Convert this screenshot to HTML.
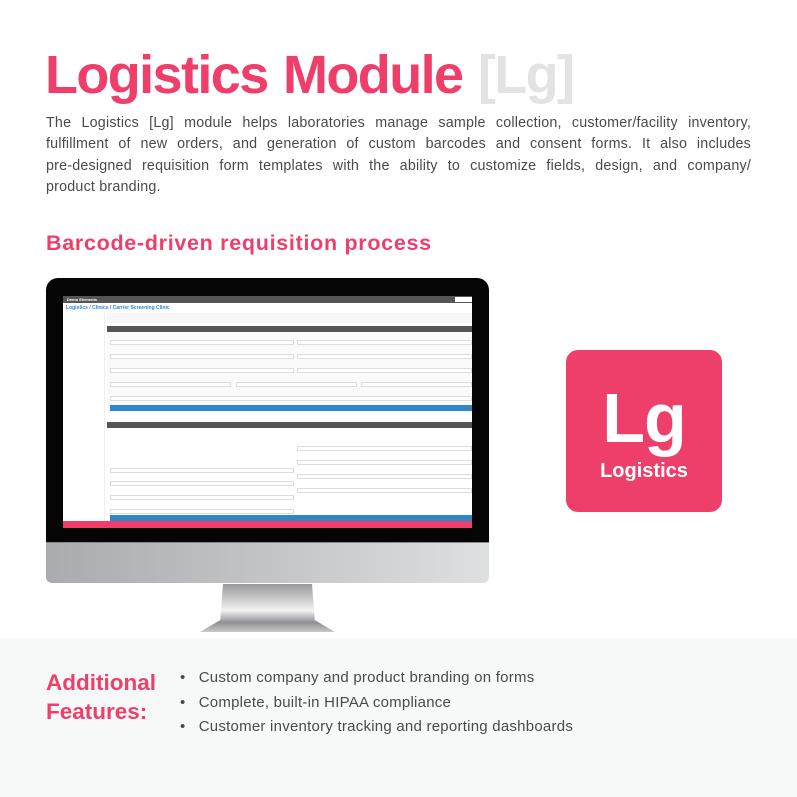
<!DOCTYPE html>
<html><head><style>
*{margin:0;padding:0;box-sizing:border-box}
body{width:797px;height:797px;background:#fff;font-family:"Liberation Sans",sans-serif;position:relative;overflow:hidden}
.a{position:absolute}
h1{position:absolute;left:45px;top:44px;font-size:54px;font-weight:bold;color:#ee3f6b;letter-spacing:-1.6px;word-spacing:2px;white-space:nowrap}
h1 span{color:#e3e3e3}
.d{position:absolute;left:46px;top:113px;width:705px;font-size:14.3px;line-height:21.3px;color:#4a4a4a;letter-spacing:0.2px}
.d div{white-space:nowrap;text-align:justify;text-align-last:justify}
.d div.last{text-align-last:left}
h2{position:absolute;left:46px;top:231px;font-size:21.5px;font-weight:bold;color:#ee3f6b;letter-spacing:0.7px}
.scr div{position:absolute}
.f{background:#fff;border:1px solid #ddd;height:5px}
</style></head><body>
<h1>Logistics Module <span>[Lg]</span></h1>
<div class="d">
<div>The Logistics [Lg] module helps laboratories manage sample collection, customer/facility inventory,</div>
<div>fulfillment of new orders, and generation of custom barcodes and consent forms. It also includes</div>
<div>pre-designed requisition form templates with the ability to customize fields, design, and company/</div>
<div class="last">product branding.</div>
</div>
<h2>Barcode-driven requisition process</h2>

<div class="a" style="left:46px;top:278px;width:443px;height:266px;background:#050505;border-radius:12px 12px 0 0"></div>
<div class="a" style="left:46px;top:542px;width:443px;height:41px;background:linear-gradient(90deg,#aaabae,#c3c4c6 50%,#dfe0e1);border-radius:0 0 6px 6px;border-top:1px solid #888"></div>
<div class="a" style="left:200px;top:584px;width:135px;height:48px;background:linear-gradient(180deg,#9a9a9c,#c8c8ca 30%,#f3f3f3 55%,#8f9093 80%,#c9c9cb);clip-path:polygon(17% 0,83% 0,85% 75%,100% 100%,0 100%,15% 75%)"></div>
<div class="a scr" style="left:63px;top:296px;width:409px;height:232px;background:#f4f4f4;overflow:hidden">
 <div style="left:0;top:0;width:409px;height:7px;background:#555"></div>
 <div style="left:4px;top:1px;font-size:4px;color:#fff;font-weight:bold">Demo Elements</div>
 <div style="left:392px;top:1px;width:17px;height:5px;background:#fff"></div>
 <div style="left:0;top:7px;width:409px;height:225px;background:#fff"></div>
 <div style="left:3px;top:9px;font-size:5px;color:#2f86c9;font-weight:bold">Logistics / Clinics / Carrier Screening Clinic</div>
 <div style="left:0;top:17px;width:42px;height:210px;background:#fff;border-right:1px solid #eee"></div>
 <div style="left:44px;top:17px;width:365px;height:10px;background:#f7f7f7"></div>
 <div style="left:44px;top:30px;width:365px;height:6px;background:#555"></div>
 <div style="left:44px;top:36px;width:365px;height:80px;background:#fafafa"></div>
 <div class="f" style="left:47px;top:44px;width:184px"></div><div class="f" style="left:234px;top:44px;width:175px"></div>
 <div class="f" style="left:47px;top:58px;width:184px"></div><div class="f" style="left:234px;top:58px;width:175px"></div>
 <div class="f" style="left:47px;top:72px;width:184px"></div><div class="f" style="left:234px;top:72px;width:175px"></div>
 <div class="f" style="left:47px;top:86px;width:121px"></div><div class="f" style="left:173px;top:86px;width:121px"></div><div class="f" style="left:298px;top:86px;width:111px"></div>
 <div class="f" style="left:47px;top:100px;width:362px"></div>
 <div style="left:47px;top:109px;width:362px;height:6px;background:#2f86c9"></div>
 <div style="left:44px;top:126px;width:365px;height:6px;background:#555"></div>
 <div class="f" style="left:47px;top:172px;width:184px"></div><div class="f" style="left:234px;top:150px;width:175px"></div>
 <div class="f" style="left:47px;top:185px;width:184px"></div><div class="f" style="left:234px;top:164px;width:175px"></div>
 <div class="f" style="left:47px;top:199px;width:184px"></div><div class="f" style="left:234px;top:178px;width:175px"></div>
 <div class="f" style="left:47px;top:213px;width:184px"></div><div class="f" style="left:234px;top:192px;width:175px"></div>
 <div style="left:47px;top:219px;width:362px;height:6px;background:#2f86c9"></div>
 <div style="left:-8px;top:225px;width:417px;height:7px;background:#ee3f6b"></div>
</div>

<div class="a" style="left:566px;top:350px;width:156px;height:162px;background:#ee3f6b;border-radius:12px;color:#fff;text-align:center">
 <div style="font-size:70px;font-weight:bold;line-height:1;margin-top:33px;letter-spacing:-1px">Lg</div>
 <div style="font-size:20px;font-weight:bold;margin-top:7px">Logistics</div>
</div>

<div class="a" style="left:0;top:638px;width:797px;height:159px;background:#f7f8f8"></div>
<div class="a" style="left:46px;top:668px;font-size:22.5px;font-weight:bold;color:#ee3f6b;line-height:29px">Additional<br>Features:</div>
<div class="a" style="left:180px;top:666px;font-size:15px;color:#4a4a4a;line-height:24.5px;letter-spacing:0.24px">
<div>•&nbsp;&nbsp; Custom company and product branding on forms</div>
<div>•&nbsp;&nbsp; Complete, built-in HIPAA compliance</div>
<div>•&nbsp;&nbsp; Customer inventory tracking and reporting dashboards</div>
</div>
</body></html>
